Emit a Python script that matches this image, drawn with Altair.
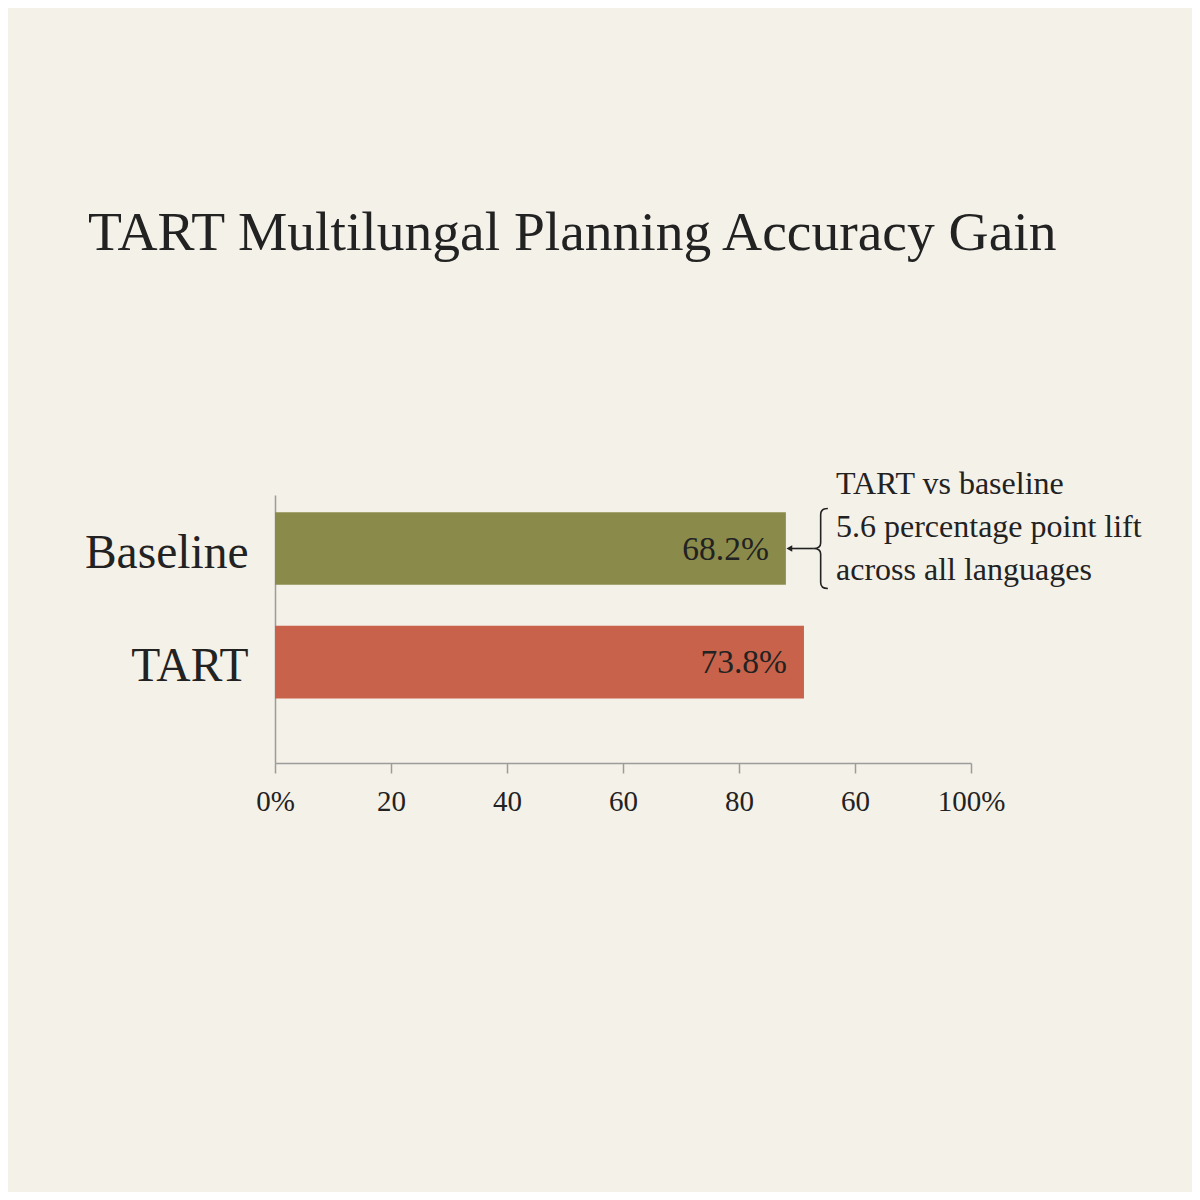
import altair as alt
import pandas as pd

# ---- data ----
models = ["Baseline", "TART"]
bar_lengths = [73.4, 76.0]          # drawn bar ends (% of axis)
value_labels = ["68.2%", "73.8%"]   # labels printed inside bars
bar_colors = ["#8A8B4A", "#C8624A"]
tick_texts = ["0%", "20", "40", "60", "80", "60", "100%"]
tick_positions = [0, 16.667, 33.333, 50, 66.667, 83.333, 100]
annotation_lines = ["TART vs baseline", "5.6 percentage point lift", "across all languages"]
title_text = "TART Multilungal Planning Accuracy Gain"

FONT = "Liberation Serif"
INK = "#222222"
AXIS_GRAY = "#9c9c9c"
BRACE_PATH = ("M0.18,-1 Q0,-1 0,-0.85 L0,-0.14 Q0,0 -0.18,0 "
              "Q0,0 0,0.14 L0,0.85 Q0,1 0.18,1")

df = pd.DataFrame({"model": models, "value": bar_lengths, "label": value_labels, "color": bar_colors})

# label expression built from the tick lists
expr = "''"
for pos, txt in reversed(list(zip(tick_positions, tick_texts))):
    expr = f"(abs(datum.value - {pos}) < 0.01 ? '{txt}' : {expr})"

y_scale = alt.Scale(domain=models, paddingInner=0.36, paddingOuter=0.36, align=0.21)
x_scale = alt.Scale(domain=[0, 100], nice=False, zero=True)

base = alt.Chart(df)

bars = base.mark_bar().encode(
    x=alt.X("value:Q", scale=x_scale,
            axis=alt.Axis(values=tick_positions, labelExpr=expr, grid=False, title=None,
                          domainColor=AXIS_GRAY, domainWidth=1.5, tickColor=AXIS_GRAY,
                          tickWidth=1.5, tickSize=10, labelFont=FONT, labelFontSize=29,
                          labelColor=INK, labelPadding=14, labelFlush=False)),
    y=alt.Y("model:N", scale=y_scale, sort=models,
            axis=alt.Axis(title=None, ticks=False, labelFont=FONT, labelFontSize=47.5,
                          labelColor=INK, labelPadding=27, labelOffset=5,
                          domainColor=AXIS_GRAY, domainWidth=1.5)),
    color=alt.Color("color:N", scale=None),
)

labels = base.mark_text(align="right", baseline="middle", dx=-17, dy=1,
                        font=FONT, fontSize=33.5, color=INK).encode(
    x="value:Q", y=alt.Y("model:N", sort=models), text="label:N")

ann_df = pd.DataFrame({
    "model": [models[0]],
    "text_x": [80.6],
    "brace_x": [78.4],
    "arrow_start": [73.9],
    "arrow_end": [77.4],
    "lines": [annotation_lines],
})
ann_base = alt.Chart(ann_df)

ann_text = ann_base.mark_text(align="left", baseline="middle", font=FONT, fontSize=32,
                              color=INK, lineHeight=43, dy=-65).encode(
    x="text_x:Q", y=alt.Y("model:N", sort=models), text="lines")

brace = ann_base.mark_point(shape=BRACE_PATH, filled=False, size=6400, strokeWidth=1.6,
                            color=INK, opacity=1).encode(
    x="brace_x:Q", y=alt.Y("model:N", sort=models))

arrow_line = ann_base.mark_rule(color=INK, strokeWidth=1.6).encode(
    x="arrow_start:Q", x2="arrow_end:Q", y=alt.Y("model:N", sort=models))

arrow_head = ann_base.mark_point(shape="triangle-left", filled=True, size=45,
                                 color=INK, opacity=1).encode(
    x="arrow_start:Q", y=alt.Y("model:N", sort=models))

chart = alt.layer(bars, labels, ann_text, arrow_line, arrow_head, brace).properties(
    width=696, height=268,
    title=alt.Title(title_text, anchor="start", frame="group", font=FONT, fontSize=55.5,
                    fontWeight="normal", color=INK, dx=-187, offset=206),
    background="#F4F1E8",
    autosize=alt.AutoSizeParams(type="none"),
    padding={"left": 267, "top": 487, "right": 221, "bottom": 429},
).configure_view(stroke=None)

chart.save("out.html", embed_options={"renderer": "svg", "actions": False})
